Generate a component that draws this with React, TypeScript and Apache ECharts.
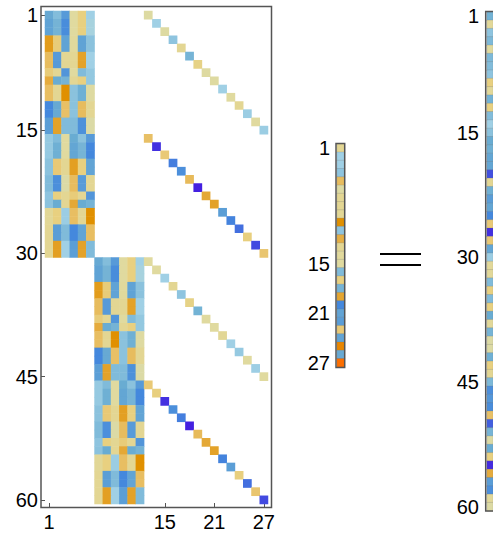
import React, { useEffect, useRef } from "react";
import * as echarts from "echarts";

// 30 rows x 6 columns: repeated as the second block of the matrix
const blockRows: number[][] = [
  [-1.55, -1.27, -1.76, 0, 0.5, -1],
  [-1.64, -1.41, -1.93, 0, 0.5, -0.9],
  [-1.64, -1.41, -1.93, 0, 0.5, -0.9],
  [1.8, 0.7, -1.64, 0.05, -1.64, -1.2],
  [1.8, 0.7, -1.64, 0.05, -1.64, -1.2],
  [1.2, -1.76, 0.2, 0.2, 1.7, -1],
  [1.2, -1.76, 0.2, 0.2, 1.7, -1],
  [0.7, 0.2, -1.82, 0, -1.3, -1.12],
  [1.55, -1.52, -1.41, 0.2, 0.5, -1.12],
  [1.15, 0.2, 2, -1.2, -1.46, -0.03],
  [1.15, 0.2, 2, -1.2, -1.46, -0.03],
  [-2, -1.55, 1.1, -1.2, 1.2, 0.2],
  [-2, -1.55, 1.1, -1.2, 1.2, 0.2],
  [-1.7, 1.7, -1.3, -1.3, -1.88, -0.1],
  [-1.7, 1.7, -1.3, -1.3, -1.88, -0.1],
  [-1.1, -1.3, 0, -1.52, -1.2, -1.76],
  [-1.1, -1.46, 0, -1.6, -1.4, -2],
  [-1.1, -1.46, 0, -1.6, -1.4, -2],
  [-1.2, 0.8, 0.2, 1.75, 0.5, -1.62],
  [-1.2, 0.8, 0.2, 1.75, 0.5, -1.62],
  [-1.3, -1.9, -0.1, 1.2, -1.75, 0.2],
  [-1.3, -1.9, -0.1, 1.2, -1.75, 0.2],
  [-1.17, 0.5, 0.2, 0.7, 0.2, -1.82],
  [-1.2, -1.52, 0.2, 1.6, -1.52, -1.41],
  [0.15, 0.5, -1.05, 1.15, 0.2, 2],
  [0.15, 0.5, -1.05, 1.15, 0.2, 2],
  [0.2, -1.7, -1.3, -2, -1.62, 1.15],
  [0.2, -1.7, -1.3, -2, -1.62, 1.15],
  [0.2, 1.75, -1, -1.7, 1.7, -1.3],
  [0.2, 1.75, -1, -1.7, 1.7, -1.3],
];
const diagonalA = [-0.05, -1, -0.05, -1.17, 0.2, -1.4, 0.4, -0.03, -0.03, -1, 0, 0.2, -1.05, 0, -1.05];
const diagonalB = [1.1, -2.85, 0.8, -2.1, -1.9, 1.25, -3, 1.6, 1.7, -1.7, -2.05, -2.25, 0.55, -2.6, 1];
const diagonalC = [0, 0, -1, 0.2, -1.17, 0.4, -1.42, 0, 0, 0.15, -1, -1.1, 0, -1.03, 0];
const diagonalD = [0.8, 0.55, -2.85, -1.9, -2.1, -3, 1.25, 1.6, 1.7, -2.05, -1.7, 0.55, -2.25, 1, -2.6];
const vector27 = [0.2, -1, -1, -1.17, 1.2, -0.05, 0.2, 0.2, 0.15, 2, -1.17, 1.5, 0.2, 0.05, 0, -1.3, 0.5, -1.4, 1.65, -2, -1.62, -1.72, 0.8, -1.62, 2.3, -1.55, 2.9];
const vector60 = [
  -1.42, 0.1, -1.17, -1.33, 0, -1.33, -1.28, -1.17, 0.5, 0.1, -1.42, 0.5, -1.28, -1, -1.2,
  -1.52, -1.46, -1.6, -1.6, -2.55, 0.2, -1.46, -1.72, -1.6, -2, 0.8, -2.85, 0.85, -1.6, -1.05,
  0.1, 0.1, -1.3, 0.5, -1.3, 0.5, -1.52, 0.1, -1.4, -0.07, -0.07, -1.46, 0.5, 0.2, -1.33,
  -1.9, -1.8, -1.93, 1.1, -2.4, -1.4, -0.07, -1.52, 0.5, -2.9, 1.55, -1.72, -1.9, 0.1, -0.07,
];
const rowTicks60 = ["1", "15", "30", "45", "60"];
const colTicks27 = ["1", "15", "21", "27"];
const rowTicks27 = ["1", "15", "21", "27"];
const colorStops = [
  "#4420E0", "#4255E0", "#4488DD", "#6BADD2", "#A0D0E5", "#C5D8C0", "#E0DA9F",
  "#E8D080", "#E9C56F", "#E5AE44", "#E09000", "#EE8000", "#FF6A00",
];

const labels = (n: number) => Array.from({ length: n }, (_, i) => String(i + 1));

function matrixData() {
  const out: number[][] = [];
  blockRows.forEach((row, r) =>
    row.forEach((v, c) => {
      out.push([c, r, v]);
      out.push([c + 6, r + 30, v]);
    })
  );
  [diagonalA, diagonalB, diagonalC, diagonalD].forEach((d, k) =>
    d.forEach((v, i) => out.push([12 + i, k * 15 + i, v]))
  );
  return out;
}

const FONT = { color: "#000", fontSize: 20, fontFamily: "Liberation Sans" };

function yAxis(gridIndex: number, n: number, shown: string[], offset: number, ticks: boolean, margin: number) {
  return {
    type: "category",
    gridIndex,
    inverse: true,
    data: labels(n),
    offset,
    axisLine: { show: false },
    axisTick: {
      show: ticks,
      inside: true,
      length: 4,
      alignWithLabel: true,
      interval: (_: number, v: string) => shown.includes(v),
      lineStyle: { color: "#555", width: 1 },
    },
    axisLabel: { ...FONT, margin, interval: (_: number, v: string) => shown.includes(v) },
    splitLine: { show: false },
  };
}

function xAxis(gridIndex: number, n: number, shown: string[] | null, offset: number) {
  return {
    type: "category",
    gridIndex,
    data: labels(n),
    position: "bottom",
    offset,
    axisLine: { show: false },
    axisTick: {
      show: !!shown,
      inside: true,
      length: 4,
      alignWithLabel: true,
      interval: (_: number, v: string) => !!shown && shown.includes(v),
      lineStyle: { color: "#555", width: 1 },
    },
    axisLabel: {
      ...FONT,
      show: !!shown,
      margin: 5,
      interval: (_: number, v: string) => !!shown && shown.includes(v),
    },
    splitLine: { show: false },
  };
}

function frame(x: number, y: number, width: number, height: number) {
  return {
    type: "rect",
    z: 20,
    silent: true,
    shape: { x, y, width, height },
    style: { fill: "none", stroke: "#555", lineWidth: 1.5 },
  };
}

function rule(y: number) {
  return {
    type: "line",
    silent: true,
    shape: { x1: 380, y1: y, x2: 421, y2: y },
    style: { stroke: "#000", lineWidth: 2.2 },
  };
}

export default function App() {
  const ref = useRef<HTMLDivElement>(null);
  useEffect(() => {
    document.body.style.margin = "0";
    document.body.style.overflow = "hidden";
    const chart = echarts.init(ref.current!, null, { renderer: "svg" });
    const mesh = { borderColor: "rgba(110,110,110,0.35)", borderWidth: 0.6 };
    chart.setOption({
      animation: false,
      backgroundColor: "#fff",
      tooltip: { show: false },
      grid: [
        { left: 45, top: 11, width: 223, height: 493 },
        { left: 337, top: 144, width: 7.5, height: 223 },
        { left: 487, top: 12, width: 8, height: 499 },
      ],
      xAxis: [xAxis(0, 27, colTicks27, 3), xAxis(1, 1, null, 0), xAxis(2, 1, null, 0)],
      yAxis: [
        yAxis(0, 60, rowTicks60, 4, true, 3),
        yAxis(1, 27, rowTicks27, 2, false, 5),
        yAxis(2, 60, rowTicks60, 2, false, 6),
      ],
      visualMap: {
        show: false,
        type: "continuous",
        min: -3,
        max: 3,
        seriesIndex: [0, 1, 2],
        dimension: 2,
        inRange: { color: colorStops },
      },
      series: [
        { type: "heatmap", xAxisIndex: 0, yAxisIndex: 0, data: matrixData(), silent: true },
        {
          type: "heatmap",
          xAxisIndex: 1,
          yAxisIndex: 1,
          silent: true,
          itemStyle: mesh,
          data: vector27.map((v, i) => [0, i, v]),
        },
        {
          type: "heatmap",
          xAxisIndex: 2,
          yAxisIndex: 2,
          silent: true,
          itemStyle: mesh,
          data: vector60.map((v, i) => [0, i, v]),
        },
      ],
      graphic: [
        frame(41, 6.5, 230.5, 501),
        frame(336, 143.5, 8.7, 224),
        frame(485.7, 11.5, 12, 499.5),
        rule(254),
        rule(265),
      ],
    });
    return () => chart.dispose();
  }, []);
  return <div ref={ref} style={{ width: 493, height: 533 }} />;
}
